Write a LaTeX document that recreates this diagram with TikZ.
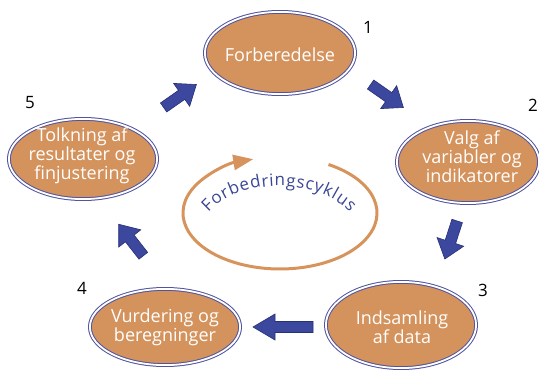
\documentclass[tikz,border=0pt]{standalone}
\usepackage{fontspec}
\setmainfont{Open Sans}
\usetikzlibrary{shapes.geometric,decorations.text,arrows.meta}
\definecolor{fillor}{RGB}{212,146,92}
\definecolor{ringbl}{RGB}{80,84,160}
\definecolor{arrbl}{RGB}{60,72,158}
\definecolor{arrdk}{RGB}{40,48,118}
\definecolor{txtbl}{RGB}{58,70,150}
\definecolor{cycor}{RGB}{214,148,92}
\begin{document}
\begin{tikzpicture}[x=1pt,y=-1pt,
  stage/.style={ellipse, draw=ringbl, line width=1pt, double=white, double distance=1.8pt, fill=fillor, inner sep=0pt},
  stagetext/.style={text=white, inner sep=0pt, align=center, font=\fontsize{18}{17}\selectfont},
  num/.style={font=\fontsize{17}{17}\selectfont, text=black, inner sep=0pt},
  cyc/.style={draw=cycor, line width=3pt},
  blockarrow/.pic={\filldraw[fill=arrbl, draw=arrdk, line width=0.6pt, line join=miter]
     (-20,-5.5) -- (2,-5.5) -- (2,-14) -- (20,0) -- (2,14) -- (2,5.5) -- (-20,5.5) -- cycle;},
  longarrow/.pic={\filldraw[fill=arrbl, draw=arrdk, line width=0.6pt, line join=miter]
     (-30,-5.5) -- (8,-5.5) -- (8,-13) -- (30,0) -- (8,13) -- (8,5.5) -- (-30,5.5) -- cycle;}
]
\useasboundingbox (0,0) rectangle (539,372);

% stages
\node[stage, minimum width=150.2pt, minimum height=82.2pt] (s1) at (280,53) {};
\node[stagetext] (t1) at (280,55) {Forberedelse};
\node[stage, minimum width=142.2pt, minimum height=82.2pt] (s2) at (468,162) {};
\node[stagetext] (t2) at (472,157) {Valg af\\variabler og\\indikatorer};
\node[stage, minimum width=150.2pt, minimum height=86.2pt] (s3) at (401,325) {};
\node[stagetext] (t3) at (402,327) {Indsamling\\af data};
\node[stage, minimum width=150.2pt, minimum height=76.2pt] (s4) at (165,327) {};
\node[stagetext] (t4) at (165,327) {Vurdering og\\beregninger};
\node[stage, minimum width=148.2pt, minimum height=80.2pt] (s5) at (83,159) {};
\node[stagetext] (t5) at (82,156) {Tolkning af\\resultater og\\finjustering};

% numbers
\node[num] (n1) at (368,27) {1};
\node[num] (n2) at (533,105) {2};
\node[num] (n3) at (483,290) {3};
\node[num] (n4) at (82,288) {4};
\node[num] (n5) at (30,103) {5};

% block arrows
\pic[rotate=-35] (a12) at (387,96) {blockarrow};
\pic[rotate=-108] (a23) at (451,240) {blockarrow};
\pic[rotate=180] (a34) at (283,327) {longarrow};
\pic[rotate=128] (a45) at (131,240) {blockarrow};
\pic[rotate=35] (a51) at (180,96) {blockarrow};

% cycle
\draw[cyc, -{Triangle[length=20pt,width=15pt]}] (328.5,164.5)
  arc[start angle=-60, end angle=254, x radius=97, y radius=56];
\path[decorate, decoration={text along path,
   text={|\fontsize{17}{17}\selectfont\color{txtbl}|Forbedringscyklus},
   text align={fit to path}}]
  (208.4,212.5) arc[start angle=-152, end angle=-28, x radius=80, y radius=50];
\end{tikzpicture}
\end{document}
